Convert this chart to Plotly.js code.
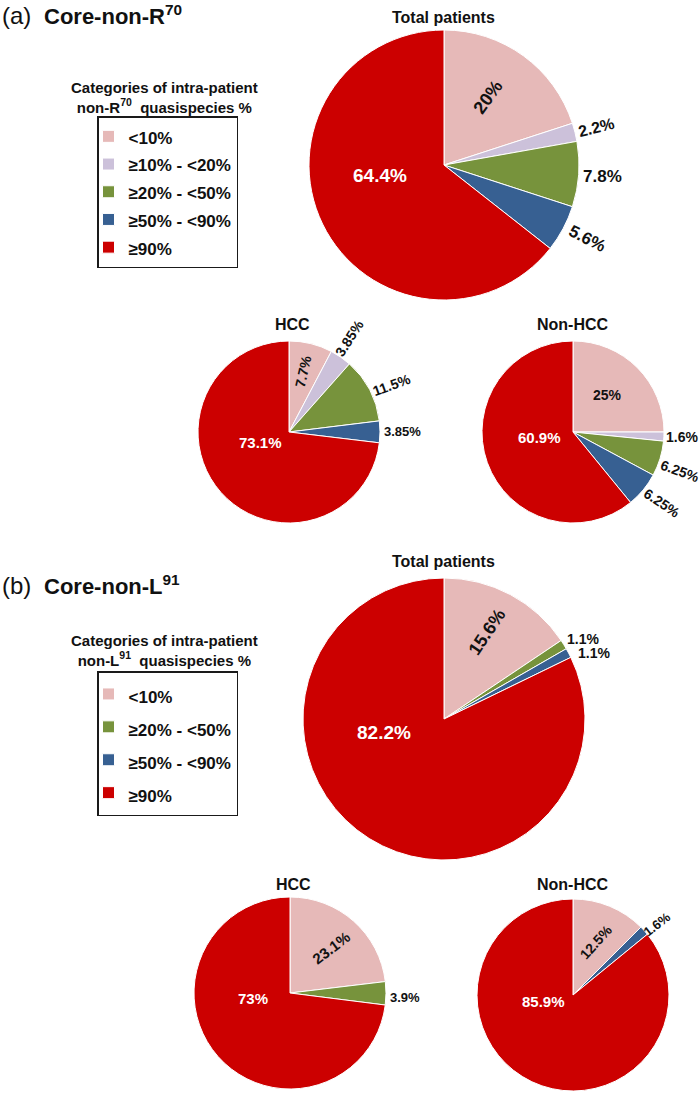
<!DOCTYPE html>
<html><head><meta charset="utf-8">
<script src="https://cdn.plot.ly/plotly-3.0.1.min.js"></script>
<style>html,body{margin:0;padding:0;background:#fff}#chart{width:700px;height:1093px}</style>
</head><body><div id="chart"></div>
<script>
// ---------- data ----------
const categories = ['<10%', '≥10% - <20%', '≥20% - <50%', '≥50% - <90%', '≥90%'];
const categoryColors = ['#E6B9B8', '#CCC1DA', '#77933C', '#376092', '#CC0000'];

const aTotalLabels = ['<10%', '≥10% - <20%', '≥20% - <50%', '≥50% - <90%', '≥90%'];
const aTotalValues = [20, 2.2, 7.8, 5.6, 64.4];
const aHccLabels = ['<10%', '≥10% - <20%', '≥20% - <50%', '≥50% - <90%', '≥90%'];
const aHccValues = [7.7, 3.85, 11.5, 3.85, 73.1];
const aNonHccLabels = ['<10%', '≥10% - <20%', '≥20% - <50%', '≥50% - <90%', '≥90%'];
const aNonHccValues = [25, 1.6, 6.25, 6.25, 60.9];

const bTotalLabels = ['<10%', '≥20% - <50%', '≥50% - <90%', '≥90%'];
const bTotalValues = [15.6, 1.1, 1.1, 82.2];
const bHccLabels = ['<10%', '≥20% - <50%', '≥90%'];
const bHccValues = [23.1, 3.9, 73];
const bNonHccLabels = ['<10%', '≥50% - <90%', '≥90%'];
const bNonHccValues = [12.5, 1.6, 85.9];

const pieTitles = ['Total patients', 'HCC', 'Non-HCC'];

// ---------- layout / style ----------
const W = 700, H = 1093;
const FONT = 'Liberation Sans, Arial, Helvetica, sans-serif';

// label placement styles (distance as fraction of radius, angle shift in deg, rotation 'r' = radial)
const pieStyles = [
  {cx: 444, cy: 165, r: 135, legend: 'legend', grp: 'a',
   dist: [0.6, 1.16, 1.18, 1.19, 0.48], shift: [-3, 0, 0, -1, 17], rot: [-54, 'r', 0, 'r', 0], size: [18, 16, 17, 17, 19]},
  {cx: 289, cy: 432, r: 91, legend: 'legend', grp: 'a',
   dist: [0.68, 1.23, 1.24, 1.25, 0.34], shift: [-1, -2, 3, 0, 21], rot: ['r', 'r', -20, 0, 0], size: [14, 14, 14, 13, 15]},
  {cx: 573, cy: 432, r: 91, legend: 'legend', grp: 'a',
   dist: [0.55, 1.2, 1.25, 1.25, 0.37], shift: [-2, 0, 3, -1, 10], rot: [0, 0, 20, 34, 0], size: [14, 14, 14, 14, 15]},
  {cx: 444, cy: 719, r: 141, legend: 'legend2', grp: 'b',
   dist: [0.69, 1.14, 1.16, 0.44], shift: [-2, 2, 4, 45], rot: [-56, 0, 0, 0], size: [18, 14, 14, 19]},
  {cx: 290, cy: 993, r: 96, legend: 'legend2', grp: 'b',
   dist: [0.64, 1.2, 0.39], shift: [1, 2, 33], rot: [-37, 0, 0], size: [15, 13, 15]},
  {cx: 573, cy: 995, r: 96, legend: 'legend2', grp: 'b',
   dist: [0.6, 1.14, 0.32], shift: [1, 2, 52], rot: [-48, -38, 0], size: [14, 13, 15]}
];
const pieData = [
  [aTotalLabels, aTotalValues], [aHccLabels, aHccValues], [aNonHccLabels, aNonHccValues],
  [bTotalLabels, bTotalValues], [bHccLabels, bHccValues], [bNonHccLabels, bNonHccValues]
];
const titleY = [17, 324, 324, 561, 884, 884];

const px = x => x / W;
const py = y => 1 - y / H;
const esc = s => s.replace(/</g, '&lt;');
const colorOf = lab => categoryColors[categories.indexOf(lab)];

const traces = [];
const annotations = [];

pieData.forEach(([labels, values], k) => {
  const st = pieStyles[k];
  // panel (b) uses a slightly different span so its legend entries are kept apart from panel (a)
  const span = st.grp === 'a' ? '<span style="font-size:17px">' : '<span style="font-size:17px;">';
  traces.push({
    type: 'pie',
    labels: labels.map(l => span + esc(l) + '</span>'),
    values: values,
    marker: {colors: labels.map(colorOf), line: {color: '#ffffff', width: 1}},
    sort: false,
    direction: 'clockwise',
    rotation: 0,
    textinfo: 'none',
    hoverinfo: 'label+value',
    domain: {x: [px(st.cx - st.r), px(st.cx + st.r)], y: [py(st.cy + st.r), py(st.cy - st.r)]},
    legend: st.legend,
    legendgroup: st.grp,
    showlegend: true
  });
  // slice labels derived from the values
  const total = values.reduce((a, b) => a + b, 0);
  let cum = 0;
  values.forEach((v, i) => {
    const mid = (cum + v / 2) / total * 360 + st.shift[i];
    cum += v;
    const rad = mid * Math.PI / 180;
    const d = st.dist[i] * st.r;
    const x = st.cx + d * Math.sin(rad);
    const y = st.cy - d * Math.cos(rad);
    const rot = st.rot[i] === 'r' ? mid - 90 : st.rot[i];
    const isRed = labels[i] === '≥90%';
    annotations.push({
      xref: 'paper', yref: 'paper', x: px(x), y: py(y),
      xanchor: 'center', yanchor: 'middle', showarrow: false,
      text: '<b>' + v + '%</b>', textangle: rot,
      font: {family: FONT, size: st.size[i], color: isRed ? '#ffffff' : '#111111'}
    });
  });
  // pie titles
  annotations.push({
    xref: 'paper', yref: 'paper', x: px(st.cx + (k === 1 || k === 4 ? 3 : 0)), y: py(titleY[k]),
    xanchor: 'center', yanchor: 'middle', showarrow: false,
    text: '<b>' + pieTitles[k % 3] + '</b>',
    font: {family: FONT, size: 16, color: '#111111'}
  });
});

// panel headers
[[15, '(a)', 'Core-non-R<sup>70</sup>'], [585, '(b)', 'Core-non-L<sup>91</sup>']].forEach(([y, tag, name]) => {
  annotations.push({xref: 'paper', yref: 'paper', x: px(0), y: py(y), xanchor: 'left', yanchor: 'middle',
    showarrow: false, text: tag, font: {family: FONT, size: 24, color: '#111111'}});
  annotations.push({xref: 'paper', yref: 'paper', x: px(42), y: py(y), xanchor: 'left', yanchor: 'middle',
    showarrow: false, text: '<b>' + name + '</b>', font: {family: FONT, size: 22, color: '#111111'}});
});

// legend titles
[[97, 'R<sup>70</sup>'], [650, 'L<sup>91</sup>']].forEach(([y, res]) => {
  annotations.push({xref: 'paper', yref: 'paper', x: px(164), y: py(y), xanchor: 'center', yanchor: 'middle',
    showarrow: false, align: 'center',
    text: '<b>Categories of intra-patient<br>non-' + res + '&nbsp; quasispecies %</b>',
    font: {family: FONT, size: 15, color: '#111111'}});
});

const layout = {
  width: W, height: H,
  margin: {l: 0, r: 0, t: 0, b: 0, pad: 0},
  paper_bgcolor: '#ffffff',
  font: {family: FONT, color: '#111111'},
  annotations: annotations,
  legend: {
    x: px(97), xanchor: 'left', y: py(116), yanchor: 'top',
    bordercolor: '#1a1a1a', borderwidth: 1.5, bgcolor: '#ffffff',
    font: {family: FONT, size: 19, color: '#111111', weight: 'bold'},
    indentation: -10,
    traceorder: 'normal'
  },
  legend2: {
    x: px(97), xanchor: 'left', y: py(671), yanchor: 'top',
    bordercolor: '#1a1a1a', borderwidth: 1.5, bgcolor: '#ffffff',
    font: {family: FONT, size: 23, color: '#111111', weight: 'bold'},
    indentation: -10,
    traceorder: 'normal'
  },
  showlegend: true
};

Plotly.newPlot('chart', traces, layout, {displayModeBar: false, staticPlot: true});
</script>
</body></html>
